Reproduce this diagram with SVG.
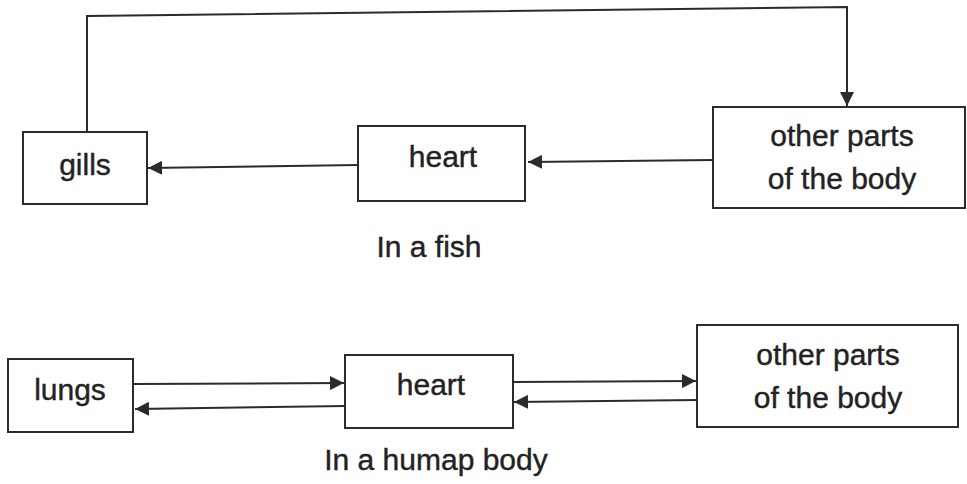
<svg xmlns="http://www.w3.org/2000/svg" width="967" height="484" viewBox="0 0 967 484">
<defs>
<style>
.box{fill:#fff;stroke:#2b2b2b;stroke-width:2}
.con{fill:none;stroke:#2b2b2b;stroke-width:2}
.t{font-family:"Liberation Sans",Arial,sans-serif;font-size:30px;fill:#222;stroke:#222;stroke-width:0.4;text-anchor:middle}
</style>
<marker id="ah" viewBox="0 0 10 10" refX="10" refY="5" markerWidth="7" markerHeight="7" markerUnits="strokeWidth" orient="auto">
<path d="M0,0 L10,5 L0,10 z" fill="#2b2b2b"/>
</marker>
</defs>
<rect width="967" height="484" fill="#fff"/>
<g id="connectors">
<polyline class="con" points="87,132 87,16 847,7 847,106" marker-end="url(#ah)"/>
<line class="con" x1="713" y1="160" x2="528" y2="162" marker-end="url(#ah)"/>
<line class="con" x1="358" y1="165" x2="148" y2="168" marker-end="url(#ah)"/>
<line class="con" x1="133" y1="384" x2="344" y2="383" marker-end="url(#ah)"/>
<line class="con" x1="345" y1="406" x2="135" y2="409" marker-end="url(#ah)"/>
<line class="con" x1="513" y1="382" x2="696" y2="381" marker-end="url(#ah)"/>
<line class="con" x1="697" y1="400" x2="514" y2="402" marker-end="url(#ah)"/>
</g>
<g id="gills">
<rect class="box" x="23" y="132" width="124" height="72"/>
<text class="t" x="85" y="175">gills</text>
</g>
<g id="heart-fish">
<rect class="box" x="358" y="126" width="167" height="75"/>
<text class="t" x="443" y="167">heart</text>
</g>
<g id="other-fish">
<rect class="box" x="713" y="107" width="252" height="101"/>
<text class="t" x="842" y="146">other parts</text>
<text class="t" x="842" y="189">of the body</text>
</g>
<g id="caption-fish">
<text class="t" x="429" y="257">In a fish</text>
</g>
<g id="lungs">
<rect class="box" x="8" y="359" width="125" height="73"/>
<text class="t" x="70" y="400">lungs</text>
</g>
<g id="heart-human">
<rect class="box" x="345" y="355" width="168" height="73"/>
<text class="t" x="431" y="395">heart</text>
</g>
<g id="other-human">
<rect class="box" x="697" y="325" width="261" height="102"/>
<text class="t" x="828" y="365">other parts</text>
<text class="t" x="828" y="408">of the body</text>
</g>
<g id="caption-human">
<text class="t" x="436" y="470">In a humap body</text>
</g>
</svg>
